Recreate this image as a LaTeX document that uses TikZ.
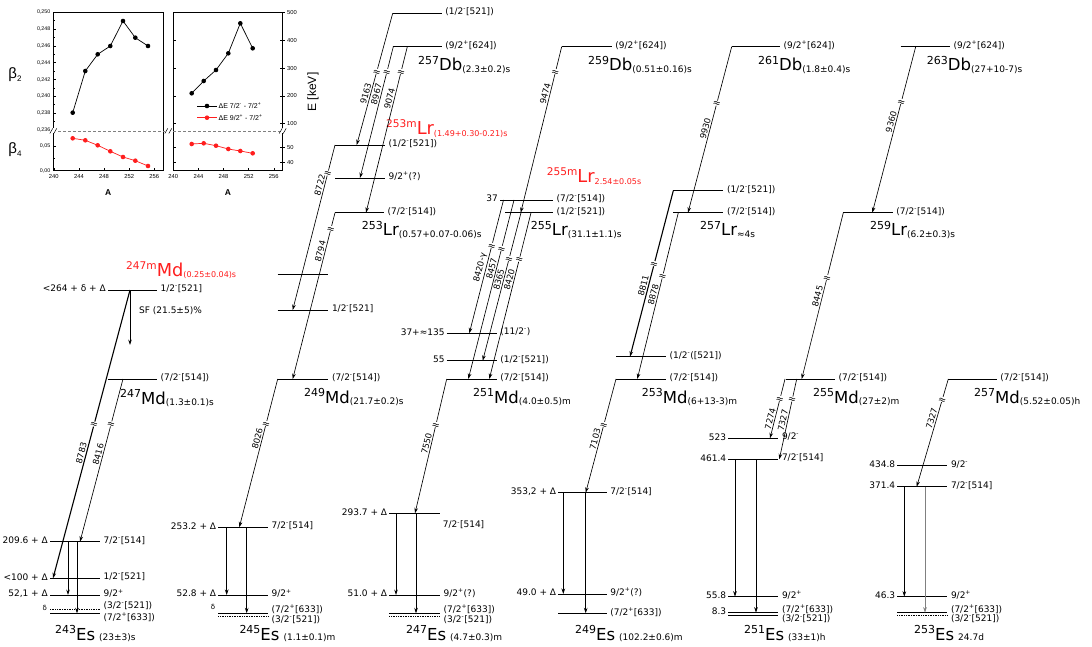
\documentclass[tikz,border=0pt]{standalone}
\usepackage{fontspec}
\setmainfont{DejaVu Sans}
\newfontfamily\plotfont{Liberation Sans}
\usetikzlibrary{arrows.meta,calc}
\definecolor{myred}{RGB}{255,30,30}
\newcommand\myfs[1]{\fontsize{#1}{#1}\selectfont}
\newcommand\supP{\textsuperscript{+}}
\newcommand\supM{\textsuperscript{-}}
\newcommand\myiso[3]{\raisebox{6.5pt}{\myfs{11}#1}{\myfs{16.5}#2}\raisebox{-1.5pt}{\myfs{9}#3}}
\newcommand\myisom[3]{\raisebox{7pt}{\myfs{10.6}#1}{\myfs{17.8}#2}\raisebox{-1.5pt}{\myfs{8}#3}}
\newcommand\myisoes[3]{\raisebox{6.5pt}{\myfs{11}#1}{\myfs{16.5}#2}\hspace{4pt}{\myfs{9}#3}}
\newcommand\mylv[4]{\coordinate (#1-l) at (#2,#4); \coordinate (#1-r) at (#3,#4); \draw[lev] (#1-l) -- (#1-r);}
\newcommand\mylvd[4]{\coordinate (#1-l) at (#2,#4); \coordinate (#1-r) at (#3,#4); \draw[levd] (#1-l) -- (#1-r);}
\newcommand\rlab[2]{\node[rl] (#1-rt) at ($(#1-r)+(3.5,-1.5)$) {#2};}
\newcommand\llab[2]{\node[ll] (#1-lt) at ($(#1-l)+(-2,-1.5)$) {#2};}
\newcommand\mydec[9][]{\coordinate (#2s) at (#3,#4); \coordinate (#2e) at (#5,#6);
  \draw[dec,#1] (#2s) -- node[brk,pos=#7] (#2b) {≈} node[elab,pos=#8] (#2t) {#9} (#2e);}
\newcommand\mygam[5][]{\coordinate (#2s) at (#3,#4); \coordinate (#2e) at (#3,#5); \draw[gam,#1] (#2s) -- (#2e);}
\begin{document}
\begin{tikzpicture}[x=1pt,y=-1pt,
 lev/.style={line width=0.85pt},
 levd/.style={line width=0.7pt,densely dotted},
 dec/.style={line width=0.65pt,-{Stealth[length=5.5pt,width=3.6pt]}},
 gam/.style={line width=0.75pt,-{Stealth[length=5.5pt,width=3.6pt]}},
 brk/.style={sloped,rotate=90,fill=white,inner sep=0.2pt,font=\myfs{9.5}},
 elab/.style={sloped,above,inner sep=1.2pt,font=\myfs{8.5}},
 rl/.style={anchor=west,inner sep=0pt,font=\myfs{9}},
 ll/.style={anchor=east,inner sep=0pt,font=\myfs{9}},
 nuc/.style={anchor=base west,inner sep=0pt},
 ax/.style={line width=0.5pt},
 ptl/.style={inner sep=0pt,font=\plotfont\myfs{5.3}},
 bdot/.style={circle,fill=black,inner sep=0pt,minimum size=4.6pt},
 rdot/.style={circle,fill=myred,inner sep=0pt,minimum size=4.6pt}]
\useasboundingbox (0,0) rectangle (1092,647);
\fill[white] (0,0) rectangle (1092,647);

% ================= inset plots =================
\begin{scope}[font=\plotfont]
\draw[ax] (53.3,12.3) rectangle (163.3,170.7);
\draw[ax] (173.3,12.3) rectangle (282.7,170.7);
\draw[gray,densely dashed,line width=0.7pt] (53.3,130.9) -- (282.7,130.9);
\foreach \yy/\tl in {12.3/{0,250}, 29.1/{0,248}, 45.9/{0,246}, 62.7/{0,244}, 79.5/{0,242}, 96.3/{0,240}, 113.1/{0,238}, 129.9/{0,236}, 146.4/{0,05}, 170.7/{0,00}}{
  \draw[ax] (53.3,\yy) -- (56.3,\yy);
  \node[ptl,anchor=east] at (50.5,\yy) {\tl};}
\foreach \yy in {20.7,37.5,54.3,71.1,87.9,104.7,121.5,158.5}{\draw[ax] (53.3,\yy) -- (55,\yy);}
\foreach \xx/\tl in {53.8/240,78.9/244,104.0/248,129.2/252,154.3/256}{
  \draw[ax] (\xx,170.7) -- (\xx,167.7);
  \node[ptl,anchor=north,font=\plotfont\myfs{5.8}] at (\xx,174) {\tl};}
\foreach \xx/\tl in {173.3/240,198.4/244,223.5/248,248.7/252,273.8/256}{
  \draw[ax] (\xx,170.7) -- (\xx,167.7);
  \node[ptl,anchor=north,font=\plotfont\myfs{5.8}] at (\xx,174) {\tl};}
\foreach \yy/\tl in {12.7/500,40.7/400,68.3/300,96/200,123.3/100,147.7/50,162.7/40}{
  \draw[ax] (280.2,\yy) -- (285.2,\yy);
  \draw[ax] (173.3,\yy) -- (176.3,\yy);
  \node[ptl,anchor=west,font=\plotfont\myfs{5.8}] at (287,\yy) {\tl};}
% break marks
\foreach \xx in {53.3,168.3,282.7}{
  \fill[white] (\xx-3,128.5) rectangle (\xx+3,133.3);
  \draw[ax] (\xx-3.5,133.5) -- (\xx-0.5,128.3);
  \draw[ax] (\xx+0.5,133.5) -- (\xx+3.5,128.3);}
% data
\draw[line width=0.7pt] (72.7,112.7) -- (85.3,71) -- (97.7,54.3) -- (110.3,46) -- (123,21) -- (135.3,37.7) -- (148,46);
\foreach \p in {(72.7,112.7),(85.3,71),(97.7,54.3),(110.3,46),(123,21),(135.3,37.7),(148,46)}{\node[bdot] at \p {};}
\draw[line width=0.7pt,myred] (72.7,138.3) -- (85.3,140.3) -- (97.7,145.3) -- (110.3,151.3) -- (123,157) -- (135.3,160.7) -- (148,166);
\foreach \p in {(72.7,138.3),(85.3,140.3),(97.7,145.3),(110.3,151.3),(123,157),(135.3,160.7),(148,166)}{\node[rdot] at \p {};}
\draw[line width=0.7pt] (191.7,93.3) -- (203.7,81) -- (216,70) -- (228.3,53.3) -- (240.3,23.3) -- (252.7,48.3);
\foreach \p in {(191.7,93.3),(203.7,81),(216,70),(228.3,53.3),(240.3,23.3),(252.7,48.3)}{\node[bdot] at \p {};}
\draw[line width=0.7pt,myred] (191.7,144) -- (203.7,143.3) -- (216,145.7) -- (228.3,149) -- (240.3,151) -- (252.7,153.3);
\foreach \p in {(191.7,144),(203.7,143.3),(216,145.7),(228.3,149),(240.3,151),(252.7,153.3)}{\node[rdot] at \p {};}
% legend
\draw[line width=0.7pt] (197,106) -- (217,106); \node[bdot] at (207,106) {};
\node[anchor=west,inner sep=0pt,font=\plotfont\myfs{7}] at (218.5,106) {ΔE 7/2\supM{} - 7/2\supP};
\draw[line width=0.7pt,myred] (197,117.7) -- (217,117.7); \node[rdot] at (207,117.7) {};
\node[anchor=west,inner sep=0pt,font=\plotfont\myfs{7}] at (218.5,117.7) {ΔE 9/2\supP{} - 7/2\supP};
% axis titles
\node[inner sep=0pt] at (15,75) {\myfs{15}β\raisebox{-3pt}{\myfs{8}2}};
\node[inner sep=0pt] at (15,150) {\myfs{15}β\raisebox{-3pt}{\myfs{8}4}};
\node[inner sep=0pt,font=\plotfont\bfseries\myfs{8.5}] at (108.3,193) {A};
\node[inner sep=0pt,font=\plotfont\bfseries\myfs{8.5}] at (228,193) {A};
\node[inner sep=0pt,rotate=90,font=\plotfont\myfs{12}] at (313,92) {E [keV]};
\end{scope}

% ================= levels =================
% column 1
\mylv{m247}{108}{157}{290} \llab{m247}{<264 + δ + Δ} \rlab{m247}{1/2\supM[521]}
\mylv{md247}{108}{157}{379} \rlab{md247}{(7/2\supM[514])}
\mylv{e243a}{50}{100}{541.7} \llab{e243a}{209.6 + Δ} \rlab{e243a}{7/2\supM[514]}
\mylv{e243b}{50}{100}{578.3} \llab{e243b}{<100 + Δ} \rlab{e243b}{1/2\supM[521]}
\mylv{e243c}{50}{100}{595} \llab{e243c}{52,1 + Δ} \rlab{e243c}{9/2\supP}
\mylvd{e243d}{50}{100}{609.5}
\mylv{e243g}{50}{100}{613.3}
\node[ll,font=\myfs{7}] (e243d-lt) at ($(e243d-l)+(-3,-2)$) {δ};
\node[rl] (e243d-rt) at ($(e243d-r)+(3.5,-4)$) {(3/2\supM[521])};
\node[rl] (e243g-rt) at ($(e243g-r)+(3.5,3.5)$) {(7/2\supP[633])};
% column 2
\mylv{db257a}{392.7}{441.7}{13.3} \rlab{db257a}{(1/2\supM[521])}
\mylv{db257b}{392.7}{441.7}{46.7} \rlab{db257b}{(9/2\supP[624])}
\mylv{lr253m}{335}{385}{145} \rlab{lr253m}{(1/2\supM[521])}
\mylv{lr253q}{335}{385}{178} \rlab{lr253q}{9/2\supP(?)}
\mylv{lr253}{335}{384}{212.7} \rlab{lr253}{(7/2\supM[514])}
\mylv{md249x}{277.7}{328.3}{274}
\mylv{md249b}{277.7}{328.3}{310} \rlab{md249b}{1/2\supM[521]}
\mylv{md249}{277.7}{328.3}{379} \rlab{md249}{(7/2\supM[514])}
\mylv{e245a}{218.3}{268}{527.3} \llab{e245a}{253.2 + Δ} \rlab{e245a}{7/2\supM[514]}
\mylv{e245c}{218.3}{268}{595} \llab{e245c}{52.8 + Δ} \rlab{e245c}{9/2\supP}
\mylv{e245g}{218.3}{268}{613.3}
\mylvd{e245d}{218.3}{268}{616.5}
\node[ll,font=\myfs{7}] (e245g-lt) at ($(e245g-l)+(-3,-6)$) {δ};
\node[rl] (e245g-rt) at ($(e245g-r)+(3.5,-4.5)$) {(7/2\supP[633])};
\node[rl] (e245d-rt) at ($(e245d-r)+(3.5,3)$) {(3/2\supM[521])};
% column 3
\mylv{db259}{561.7}{611.7}{46.7} \rlab{db259}{(9/2\supP[624])}
\mylv{lr255m}{500}{553}{200} \llab{lr255m}{37} \rlab{lr255m}{(7/2\supM[514])}
\mylv{lr255}{505}{553}{212.7} \rlab{lr255}{(1/2\supM[521])}
\mylv{md251a}{446.7}{496.7}{333.3} \llab{md251a}{37+≈135} \rlab{md251a}{(11/2\supM)}
\mylv{md251b}{446.7}{496.7}{360.7} \llab{md251b}{55} \rlab{md251b}{(1/2\supM[521])}
\mylv{md251}{446.7}{496.7}{379} \rlab{md251}{(7/2\supM[514])}
\mylv{e247a}{389.3}{440}{513.3} \llab{e247a}{293.7 + Δ}
\node[rl] (e247a-rt) at ($(e247a-r)+(2.7,11.7)$) {7/2\supM[514]};
\mylv{e247c}{389.3}{440}{595} \llab{e247c}{51.0 + Δ} \rlab{e247c}{9/2\supP(?)}
\mylv{e247g}{389.3}{440}{613.3}
\mylvd{e247d}{389.3}{440}{616.3}
\node[rl] (e247g-rt) at ($(e247g-r)+(3.5,-4.3)$) {(7/2\supP[633])};
\node[rl] (e247d-rt) at ($(e247d-r)+(3.5,3)$) {(3/2\supM[521])};
% column 4
\mylv{db261}{731.7}{780}{46.7} \rlab{db261}{(9/2\supP[624])}
\mylv{lr257b}{673.3}{723.3}{190.7} \rlab{lr257b}{(1/2\supM[521])}
\mylv{lr257}{673.3}{723.3}{212.7} \rlab{lr257}{(7/2\supM[514])}
\mylv{md253b}{616}{666}{356.7} \rlab{md253b}{(1/2\supM([521])}
\mylv{md253}{616}{666}{379} \rlab{md253}{(7/2\supM[514])}
\mylv{e249a}{558.3}{606.7}{492.7} \llab{e249a}{353,2 + Δ} \rlab{e249a}{7/2\supM[514]}
\mylv{e249c}{558.3}{606.7}{594} \llab{e249c}{49.0 + Δ} \rlab{e249c}{9/2\supP(?)}
\mylv{e249g}{558.3}{606.7}{613.3} \rlab{e249g}{(7/2\supP[633])}
% column 5
\mylv{db263}{900.7}{950}{46.7} \rlab{db263}{(9/2\supP[624])}
\mylv{lr259}{843.3}{892.7}{212.7} \rlab{lr259}{(7/2\supM[514])}
\mylv{md255}{786}{835}{379} \rlab{md255}{(7/2\supM[514])}
\mylv{e251e}{728.3}{778.3}{438.3} \llab{e251e}{523} \rlab{e251e}{9/2\supM}
\mylv{e251a}{728.3}{778.3}{459.3} \llab{e251a}{461.4} \rlab{e251a}{7/2\supM[514]}
\mylv{e251c}{728.3}{778.3}{596.7} \llab{e251c}{55.8} \rlab{e251c}{9/2\supP}
\mylv{e251g}{728.3}{778.3}{612.7} \llab{e251g}{8.3}
\mylv{e251d}{728.3}{778.3}{615.5}
\node[rl] (e251g-rt) at ($(e251g-r)+(3.5,-3.7)$) {(7/2\supP[633])};
\node[rl] (e251d-rt) at ($(e251d-r)+(3.5,3.5)$) {(3/2\supM[521])};
% column 6
\mylv{md257}{948.3}{996.7}{379} \rlab{md257}{(7/2\supM[514])}
\mylv{e253e}{897.3}{947.3}{465.7} \llab{e253e}{434.8} \rlab{e253e}{9/2\supM}
\mylv{e253a}{897.3}{947.3}{486.7} \llab{e253a}{371.4} \rlab{e253a}{7/2\supM[514]}
\mylv{e253c}{897.3}{947.3}{596.7} \llab{e253c}{46.3} \rlab{e253c}{9/2\supP}
\mylv{e253g}{897.3}{947.3}{612.7}
\mylvd{e253d}{897.3}{947.3}{615.3}
\node[rl] (e253g-rt) at ($(e253g-r)+(3.5,-3.7)$) {(7/2\supP[633])};
\node[rl] (e253d-rt) at ($(e253d-r)+(3.5,3.5)$) {(3/2\supM[521])};

% ================= nuclide names =================
\node[nuc,text=myred] (n247m) at (126,276) {\myisom{247m}{Md}{(0.25±0.04)s}};
\node[nuc,text=myred] (n253m) at (386,135) {\myisom{253m}{Lr}{(1.49+0.30-0.21)s}};
\node[nuc,text=myred] (n255m) at (546.7,183) {\myisom{255m}{Lr}{2.54±0.05s}};
\node[nuc] (n247md) at (120,404) {\myiso{247}{Md}{(1.3±0.1)s}};
\node[nuc] (n249md) at (304,403) {\myiso{249}{Md}{(21.7±0.2)s}};
\node[nuc] (n251md) at (473,403) {\myiso{251}{Md}{(4.0±0.5)m}};
\node[nuc] (n253md) at (641.7,403) {\myiso{253}{Md}{(6+13-3)m}};
\node[nuc] (n255md) at (813,403) {\myiso{255}{Md}{(27±2)m}};
\node[nuc] (n257md) at (974,403) {\myiso{257}{Md}{(5.52±0.05)h}};
\node[nuc] (n253lr) at (361.7,236) {\myiso{253}{Lr}{(0.57+0.07-0.06)s}};
\node[nuc] (n255lr) at (530.7,236) {\myiso{255}{Lr}{(31.1±1.1)s}};
\node[nuc] (n257lr) at (700,236) {\myiso{257}{Lr}{≈4s}};
\node[nuc] (n259lr) at (870,236) {\myiso{259}{Lr}{(6.2±0.3)s}};
\node[nuc] (n257db) at (418,71) {\myiso{257}{Db}{(2.3±0.2)s}};
\node[nuc] (n259db) at (588,71) {\myiso{259}{Db}{(0.51±0.16)s}};
\node[nuc] (n261db) at (758,71) {\myiso{261}{Db}{(1.8±0.4)s}};
\node[nuc] (n263db) at (926.7,71) {\myiso{263}{Db}{(27+10-7)s}};
\node[nuc] (n243es) at (55,640) {\myisoes{243}{Es}{(23±3)s}};
\node[nuc] (n245es) at (239.3,640) {\myisoes{245}{Es}{(1.1±0.1)m}};
\node[nuc] (n247es) at (406,640) {\myisoes{247}{Es}{(4.7±0.3)m}};
\node[nuc] (n249es) at (575,640) {\myisoes{249}{Es}{(102.2±0.6)m}};
\node[nuc] (n251es) at (744,640) {\myisoes{251}{Es}{(33±1)h}};
\node[nuc] (n253es) at (914,640) {\myisoes{253}{Es}{24.7d}};

% ================= alpha decays =================
\mydec[line width=1.1pt]{c8783}{130}{290}{53}{578.3}{.465}{.57}{8783}
\mydec{c8416}{123}{379}{80}{541.7}{.276}{.47}{8416}
\mydec{c8026}{277.7}{379}{239.3}{527.3}{.30}{.41}{8026}
\mydec{c8722}{335}{145}{292.7}{310}{.17}{.25}{8722}
\mydec{c8794}{335}{212.7}{292.7}{379}{.096}{.24}{8794}
\mydec{c9163}{392.7}{13.3}{356.7}{145}{.44}{.62}{9163}
\mydec{c8967}{393.3}{46.7}{360}{178}{.19}{.37}{8967}
\mydec{c9074}{407.3}{46.7}{366}{212.7}{.15}{.32}{9074}
\mydec{c9474}{561.7}{46.7}{520.7}{212.7}{.15}{.29}{9474}
\mydec{c8420g}{503.5}{200}{469.3}{333.3}{.34}{.52}{8420-γ}
\mydec{c8457}{514}{200}{468.3}{379}{.27}{.39}{8457}
\mydec{c8365}{521}{212.7}{482.7}{360.7}{.31}{.46}{8365}
\mydec{c8420}{531}{212.7}{489.3}{379}{.28}{.41}{8420}
\mydec{c7550}{446.7}{379}{415}{513.3}{.34}{.49}{7550}
\mydec{c9930}{731.7}{46.7}{688}{212.7}{.34}{.5}{9930}
\mydec[line width=1.1pt]{c8811}{673.3}{190.7}{630}{356.7}{.44}{.58}{8811}
\mydec{c8878}{678.3}{212.7}{637.3}{379}{.38}{.5}{8878}
\mydec{c7103}{616}{379}{585.7}{492.7}{.4}{.54}{7103}
\mydec{c9360}{915.7}{46.7}{872.3}{212.7}{.33}{.46}{9360}
\mydec{c8445}{843.3}{212.7}{801.7}{379}{.39}{.51}{8445}
\mydec{c7274}{785}{379}{770}{438.3}{.33}{.69}{7274}
\mydec{c7327a}{796.7}{379}{779.3}{459.3}{.25}{.53}{7327}
\mydec{c7327b}{948.3}{379}{916.7}{486.7}{.19}{.38}{7327}

% ================= gamma transitions =================
\mygam{g243a}{68}{541.7}{595}
\mygam{g243b}{77}{541.7}{613.3}
\mygam{g245a}{226.7}{527.3}{595}
\mygam{g245b}{246.7}{527.3}{613.3}
\mygam{g247a}{396}{513.3}{595}
\mygam{g247b}{416}{513.3}{613.3}
\mygam{g249a}{563.3}{492.7}{594}
\mygam{g249b}{585.7}{492.7}{613.3}
\mygam{g251a}{735}{459.3}{596.7}
\mygam{g251b}{756}{459.3}{612.7}
\mygam{g253a}{904.3}{486.7}{596.7}
\mygam[gray]{g253b}{925}{486.7}{612.7}
% spontaneous fission
\mygam{gsf}{130}{290}{345}
\node[anchor=west,inner sep=0pt,font=\myfs{9}] (sf) at (139,311) {SF (21.5±5)\%};
\end{tikzpicture}
\end{document}
